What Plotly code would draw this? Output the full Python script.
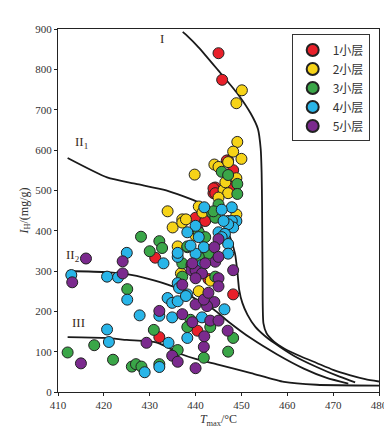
import plotly.graph_objects as go

# ---- data (Tmax in °C, IH in mg/g) ----
series_names = ["1小层", "2小层", "3小层", "4小层", "5小层"]
series_colors = ["#e8202a", "#f6d318", "#3aa648", "#29b5e8", "#7b2a8e"]

red_t = [445.0, 445.8, 447.1, 446.8, 448.2, 444.3, 447.5, 443.9, 443.9, 444.3, 442.5, 440.0, 440.4, 442.1,
         440.4, 432.1, 431.2, 448.2, 442.8]
red_ih = [840, 774, 574, 574, 550, 507, 509, 493, 505, 493, 432, 432, 404, 424,
          152, 136, 333, 242, 280]

yel_t = [450.1, 448.9, 449.1, 448.2, 450.0, 439.8, 444.1, 445.0, 447.1, 448.9, 446.1, 447.1, 445.0, 440.7,
         448.9, 433.9, 435.0, 437.1, 437.1, 436.1, 436.8, 440.7, 437.9, 440.0, 443.3, 441.5, 446.5]
yel_ih = [748, 716, 620, 596, 578, 539, 564, 558, 570, 530, 501, 493, 482, 460,
          440, 448, 408, 428, 420, 361, 294, 250, 428, 388, 276, 445, 520]

grn_t = [445.7, 447.1, 449.1, 449.1, 445.0, 443.6, 444.3, 443.9, 440.7, 442.1, 438.2, 442.8, 440.7, 428.1,
         432.1, 432.7, 430.0, 438.2, 437.1, 437.1, 425.1, 444.3, 438.9, 438.2, 443.2, 430.9, 417.9, 436.1,
         412.1, 422.0, 426.1, 427.0, 428.2, 432.1, 441.8, 448.2, 447.1]
grn_ih = [546, 538, 516, 491, 465, 444, 432, 448, 396, 384, 359, 343, 335, 385,
          374, 357, 349, 361, 319, 286, 255, 286, 179, 161, 161, 154, 116, 104,
          98, 80, 63, 69, 63, 69, 85, 134, 100]

cyn_t = [441.9, 447.9, 445.7, 447.1, 448.9, 447.9, 448.2, 447.1, 446.1, 445.0, 446.4, 445.7, 440.0, 440.7,
         441.8, 440.0, 438.9, 438.2, 425.0, 433.0, 436.1, 412.9, 420.7, 423.1, 425.1, 436.1, 436.4, 438.2,
         433.9, 434.9, 436.1, 427.8, 432.1, 434.9, 441.4, 438.2, 420.7, 421.1, 434.1, 428.9, 432.1, 447.1,
         447.1, 446.3, 441.4, 437.9, 436.1]
cyn_ih = [458, 458, 452, 424, 424, 424, 408, 416, 424, 396, 392, 384, 412, 384,
          359, 343, 363, 396, 345, 319, 335, 290, 286, 284, 229, 270, 258, 242,
          233, 221, 225, 190, 189, 185, 185, 134, 155, 124, 122, 49, 62, 367,
          343, 205, 315, 238, 345]

pur_t = [424.1, 416.1, 413.1, 424.1, 437.1, 439.1, 439.1, 440.0, 432.1, 437.1, 439.3, 429.3, 434.9, 436.1,
         415.0, 440.0, 441.8, 448.2, 445.0, 444.1, 444.3, 445.0, 445.0, 445.0, 444.1, 442.5, 441.8, 442.8,
         443.2, 445.0, 441.9, 447.0, 440.0, 441.4, 440.0, 442.1, 439.3]
pur_ih = [324, 331, 272, 294, 266, 315, 302, 217, 201, 193, 173, 122, 90, 75,
          71, 59, 112, 302, 379, 359, 323, 335, 282, 262, 223, 213, 229, 246,
          177, 177, 138, 152, 302, 294, 282, 319, 319]

# ---- boundary curves ----
c1_t = [437.2, 437.9, 440.7, 444.9, 449.2, 452.0, 453.6, 454.2, 454.4, 454.5, 454.6, 454.8, 455.5, 457.1,
        459.3, 463.0, 466.4, 470.0, 473.6, 477.0, 480.0]
c1_ih = [893, 886, 854, 798, 739, 691, 652, 603, 545, 465, 300, 170, 145, 125,
         108, 88, 72, 55, 42, 32, 26]

c21_t = [412.1, 420.7, 427.0, 433.6, 440.7, 444.0, 446.0, 447.5, 448.6, 449.1, 449.5, 450.2, 451.3, 453.0,
         455.0, 457.1, 461.4, 466.4, 471.4, 474.8]
c21_ih = [580, 532, 516, 500, 470, 448, 420, 385, 343, 300, 254, 221, 192, 162,
          140, 122, 90, 62, 38, 24]

c22_t = [412.1, 420.7, 425.0, 429.3, 435.0, 438.0, 441.0, 443.9, 447.1, 452.1, 457.8, 463.6, 468.6, 473.3]
c22_ih = [300, 297, 292, 282, 262, 244, 224, 205, 175, 133, 93, 58, 35, 21]

c3_t = [412.1, 420.0, 425.0, 431.4, 434.0, 437.1, 440.0, 444.9, 452.1, 459.3, 466.4, 480.0]
c3_ih = [136, 134, 129, 123, 110, 93, 82, 68, 47, 25, 18, 16]

curve_labels = ["I", "II<sub>1</sub>", "II<sub>2</sub>", "III"]
label_t = [431.9, 413.3, 411.3, 412.7]
label_ih = [877, 618, 338, 172]

x_ticks = [410, 420, 430, 440, 450, 460, 470, 480]
y_ticks = [0, 100, 200, 300, 400, 500, 600, 700, 800, 900]

SERIF = "Liberation Serif"

fig = go.Figure()

for ct, cih in [(c1_t, c1_ih), (c21_t, c21_ih), (c22_t, c22_ih), (c3_t, c3_ih)]:
    fig.add_trace(go.Scatter(x=ct, y=cih, mode="lines", line=dict(color="#1a1a1a", width=1.8, shape="spline", smoothing=0.6),
                             showlegend=False, hoverinfo="skip"))

all_t = [red_t, yel_t, grn_t, cyn_t, pur_t]
all_ih = [red_ih, yel_ih, grn_ih, cyn_ih, pur_ih]
for name, col, t, ih in zip(series_names, series_colors, all_t, all_ih):
    fig.add_trace(go.Scatter(x=t, y=ih, mode="markers", name=name,
                             marker=dict(size=11, color=col, line=dict(color="#222", width=1))))

for lab, lt, lih in zip(curve_labels, label_t, label_ih):
    fig.add_annotation(x=lt, y=lih, text=lab, showarrow=False,
                       font=dict(family=SERIF, size=13, color="#3a2a1a"), xanchor="left")

fig.update_layout(
    width=392, height=428,
    margin=dict(l=50, r=14, t=21, b=37),
    paper_bgcolor="white", plot_bgcolor="white",
    font=dict(family=SERIF, size=11, color="#333"),
    legend=dict(x=0.728, y=0.985, xanchor="left", yanchor="top",
                bordercolor="#333", borderwidth=1, bgcolor="white",
                font=dict(family="Noto Sans CJK SC", size=12, color="#333"),
                itemsizing="constant", tracegroupgap=2),
    xaxis=dict(range=[410, 480], tickvals=x_ticks, showgrid=False, zeroline=False,
               showline=True, linecolor="#222", linewidth=1.2, mirror=True,
               ticks="outside", ticklen=3, tickcolor="#222",
               title=dict(text="<i>T</i><sub>max</sub>/°C", font=dict(family=SERIF, size=12), standoff=4)),
    yaxis=dict(range=[0, 900], tickvals=y_ticks, showgrid=False, zeroline=False,
               showline=True, linecolor="#222", linewidth=1.2, mirror=True,
               ticks="outside", ticklen=3, tickcolor="#222",
               title=dict(text="<i>I</i><sub>H</sub>/(mg/g)", font=dict(family=SERIF, size=12), standoff=4)),
)

fig.write_html("out.html")
